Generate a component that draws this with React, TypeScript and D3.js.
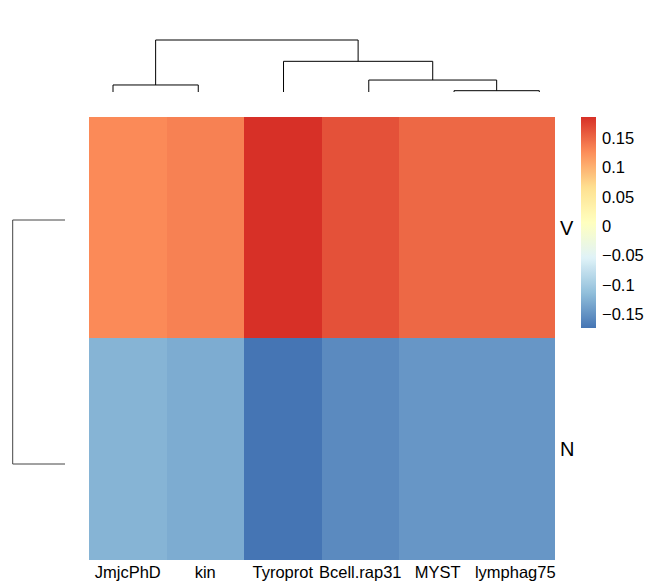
import React from "react";
import * as d3 from "d3";

const columns = ["JmjcPhD", "kin", "Tyroprot", "Bcell.rap31", "MYST", "lymphag75"];
const rows = ["V", "N"];
const valuesV = [0.127, 0.133, 0.185, 0.164, 0.149, 0.149];
const valuesN = [-0.122, -0.129, -0.173, -0.156, -0.146, -0.146];
const legendTicks = [0.15, 0.1, 0.05, 0, -0.05, -0.1, -0.15];
const palette = ["#4575B4", "#91BFDB", "#E0F3F8", "#FFFFBF", "#FEE090", "#FC8D59", "#D73027"];

// hclust-style merges (negative = leaf index, positive = earlier merge, 1-based)
const colMerge: [number, number][] = [[-5, -6], [-1, -2], [-4, 1], [-3, 3], [2, 4]];
const colHeights = [0.025, 0.135, 0.23, 0.59, 1.0];
const rowMerge: [number, number][] = [[-1, -2]];
const rowHeights = [1.0];

const W = 649, H = 583;
const hmLeft = 89, hmRight = 554, hmTop = 117, hmBottom = 559;
const FONT = "'Liberation Sans', Arial, Helvetica, sans-serif";

function dendroPaths(
  merge: [number, number][],
  heights: number[],
  leafPos: (i: number) => number,
  hPos: (h: number) => number,
  vertical: boolean
) {
  const mids: number[] = [];
  const paths: string[] = [];
  merge.forEach(([a, b], k) => {
    const pa = a < 0 ? leafPos(-a - 1) : mids[a - 1];
    const pb = b < 0 ? leafPos(-b - 1) : mids[b - 1];
    const ha = a < 0 ? 0 : heights[a - 1];
    const hb = b < 0 ? 0 : heights[b - 1];
    const h = heights[k];
    mids[k] = (pa + pb) / 2;
    if (vertical) {
      paths.push(`M${pa},${hPos(ha)}V${hPos(h)}H${pb}V${hPos(hb)}`);
    } else {
      paths.push(`M${hPos(ha)},${pa}H${hPos(h)}V${pb}H${hPos(hb)}`);
    }
  });
  return paths;
}

export default function App() {
  const matrix = [valuesV, valuesN];
  const all = [...valuesV, ...valuesN];
  const vmin = d3.min(all) as number;
  const vmax = d3.max(all) as number;
  const color = d3
    .scaleLinear<string>()
    .domain(d3.range(7).map((i) => vmin + (i * (vmax - vmin)) / 6))
    .range(palette)
    .interpolate(d3.interpolateRgb);

  const x = d3.scaleBand<string>().domain(columns).range([hmLeft, hmRight]);
  const y = d3.scaleBand<string>().domain(rows).range([hmTop, hmBottom]);

  // dendrogram scales
  const colLeaf = d3.scalePoint<string>().domain(columns).range([113, 539.3]);
  const colH = d3.scaleLinear().domain([0, d3.max(colHeights) as number]).range([92, 40]);
  const rowLeaf = d3.scalePoint<string>().domain(rows).range([220, 464]);
  const rowH = d3.scaleLinear().domain([0, d3.max(rowHeights) as number]).range([65, 12.7]);

  const colPaths = dendroPaths(colMerge, colHeights, (i) => colLeaf(columns[i]) as number, colH, true);
  const rowPaths = dendroPaths(rowMerge, rowHeights, (i) => rowLeaf(rows[i]) as number, rowH, false);

  const legY = d3.scaleLinear().domain([vmin, vmax]).range([328, 117]);
  const legStops = d3.range(0, 101).map((i) => vmin + (i / 100) * (vmax - vmin));

  return (
    <svg width={W} height={H} style={{ position: "absolute", left: 0, top: 0 }} fontFamily={FONT}>
      <rect width={W} height={H} fill="#fff" />
      {matrix.map((vals, r) =>
        vals.map((v, c) => (
          <rect
            key={`${r}-${c}`}
            x={x(columns[c])}
            y={y(rows[r])}
            width={x.bandwidth() + 0.5}
            height={y.bandwidth() + 0.5}
            fill={color(v)}
            shapeRendering="crispEdges"
          />
        ))
      )}
      <g fill="none" stroke="#000" strokeWidth={1}>
        {colPaths.map((d, i) => (
          <path key={i} d={d} />
        ))}
        {rowPaths.map((d, i) => (
          <path key={`r${i}`} d={d} stroke="#444" />
        ))}
      </g>
      {columns.map((c) => (
        <text
          key={c}
          x={(x(c) as number) + x.bandwidth() / 2}
          y={578}
          textAnchor="middle"
          fontSize={16.5}
          fill="#000"
        >
          {c}
        </text>
      ))}
      {rows.map((r) => (
        <text
          key={r}
          x={560}
          y={(y(r) as number) + y.bandwidth() / 2}
          dy="0.36em"
          fontSize={20}
          fill="#000"
        >
          {r}
        </text>
      ))}
      <defs>
        <linearGradient id="leg" x1="0" y1="1" x2="0" y2="0">
          {legStops.map((v, i) => (
            <stop key={i} offset={`${i}%`} stopColor={color(v)} />
          ))}
        </linearGradient>
      </defs>
      <rect x={581} y={legY(vmax)} width={15} height={legY(vmin) - legY(vmax)} fill="url(#leg)" />
      {legendTicks.map((t) => (
        <text key={t} x={602} y={legY(t)} dy="0.36em" fontSize={16.5} fill="#000">
          {t < 0 ? `\u2212${Math.abs(t)}` : `${t}`}
        </text>
      ))}
    </svg>
  );
}
